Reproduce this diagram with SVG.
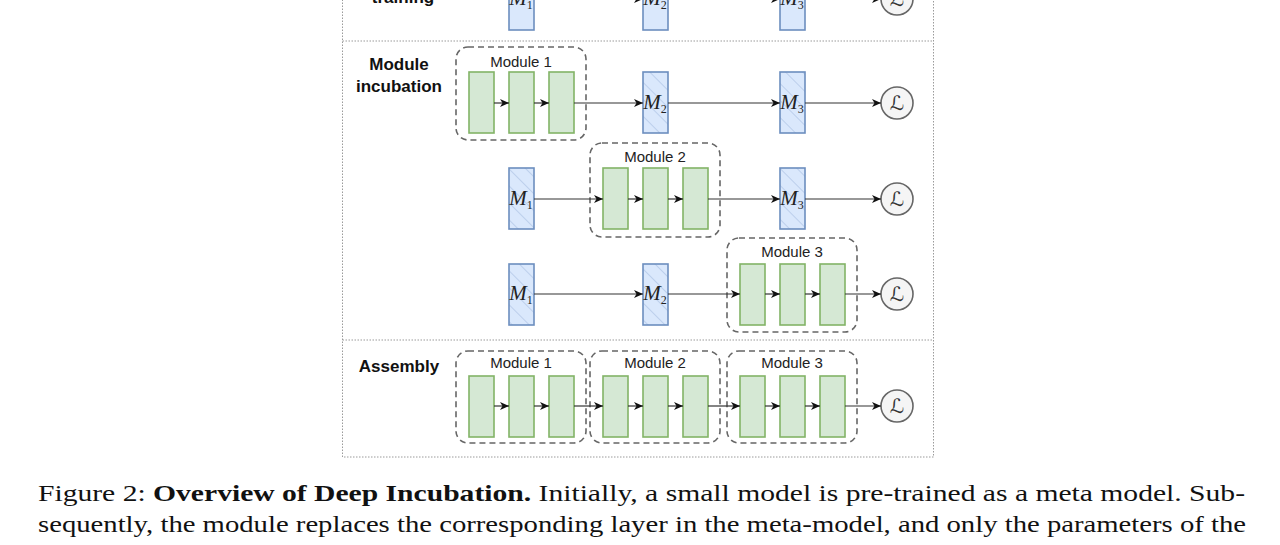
<svg xmlns="http://www.w3.org/2000/svg" width="1280" height="545" viewBox="0 0 1280 545">
<style>
.frame{fill:none;stroke:#9a9a9a;stroke-width:1;stroke-dasharray:1.5 1.5}
.sep{stroke:#9a9a9a;stroke-width:1;stroke-dasharray:1.5 1.5}
.mod{fill:none;stroke:#666;stroke-width:1.6;stroke-dasharray:6 4}
.g{fill:#d5e8d4;stroke:#82b366;stroke-width:1.6}
.b{fill:#dae8fc;stroke:#6c8ebf;stroke-width:1.6}
.bh{fill:url(#hatch);stroke:#6c8ebf;stroke-width:1.6}
.loss{fill:#f5f5f5;stroke:#666;stroke-width:1.6}
.row{font-family:'Liberation Sans',Arial,sans-serif;font-weight:bold;font-size:17px;fill:#111;text-anchor:middle}
.ml{font-family:'Liberation Sans',Arial,sans-serif;font-size:15px;fill:#222;text-anchor:middle}
.m{font-family:'Times New Roman','Liberation Serif',Tinos,'Nimbus Roman','FreeSerif',serif;font-style:italic;font-size:21px;fill:#222;text-anchor:middle}
.sub{font-style:normal;font-size:12px}
.L{font-family:'DejaVu Serif','DejaVu Sans',serif;font-size:20px;fill:#333;text-anchor:middle}
.c{stroke:#333;stroke-width:1.2;fill:none;marker-end:url(#ah)}
.cap{font-family:'Times New Roman','Liberation Serif',Tinos,'Nimbus Roman','FreeSerif',serif;font-size:24px;fill:#111}
</style>
<defs>
<pattern id="hatch" width="12" height="12" patternUnits="userSpaceOnUse" patternTransform="rotate(-45)">
<rect width="12" height="12" fill="#dae8fc"/>
<line x1="0" y1="0" x2="0" y2="12" stroke="#6c8ebf" stroke-width="1" stroke-opacity="0.55"/>
</pattern>
<marker id="ah" markerWidth="10" markerHeight="9" refX="9" refY="4.5" orient="auto" markerUnits="userSpaceOnUse">
<path d="M0,0.5 L9,4.5 L0,8.5 L2.5,4.5 z" fill="#111"/>
</marker>
</defs>
<rect width="1280" height="545" fill="#fff"/>

<g id="frame">
<rect class="frame" x="342.5" y="-20" width="591" height="477"/>
<line class="sep" x1="342.5" y1="41" x2="933.5" y2="41"/>
<line class="sep" x1="342.5" y1="340" x2="933.5" y2="340"/>
</g>

<g id="labels">
<text class="row" x="403" y="3">training</text>
<text class="row" x="399" y="70">Module</text>
<text class="row" x="399" y="92">incubation</text>
<text class="row" x="399" y="372">Assembly</text>
</g>

<g id="row0">
<g id="r0-m1"><rect class="b" x="509" y="-32" width="25" height="62"/><text class="m" x="521" y="5">M<tspan class="sub" dy="4">1</tspan></text></g>
<g id="r0-m2"><rect class="b" x="643" y="-32" width="25" height="62"/><text class="m" x="655" y="5">M<tspan class="sub" dy="4">2</tspan></text></g>
<g id="r0-m3"><rect class="b" x="780" y="-32" width="25" height="62"/><text class="m" x="792" y="5">M<tspan class="sub" dy="4">3</tspan></text></g>
<g id="r0-loss"><circle class="loss" cx="897" cy="-1" r="16"/><text class="L" x="897" y="6">ℒ</text></g>
</g>

<g id="row1">
<g id="r1-module1">
<rect class="mod" x="456" y="47" width="130" height="93" rx="12"/>
<text class="ml" x="521" y="67">Module 1</text>
<rect class="g" x="469" y="72" width="25" height="61"/>
<rect class="g" x="509" y="72" width="25" height="61"/>
<rect class="g" x="549" y="72" width="25" height="61"/>
</g>
<g id="r1-m2"><rect class="bh" x="643" y="72" width="25" height="61"/><text class="m" x="655" y="109">M<tspan class="sub" dy="4">2</tspan></text></g>
<g id="r1-m3"><rect class="bh" x="780" y="72" width="25" height="61"/><text class="m" x="792" y="109">M<tspan class="sub" dy="4">3</tspan></text></g>
<g id="r1-loss"><circle class="loss" cx="897" cy="103" r="16"/><text class="L" x="897" y="110">ℒ</text></g>
</g>

<g id="row2">
<g id="r2-m1"><rect class="bh" x="509" y="168" width="25" height="61"/><text class="m" x="521" y="205">M<tspan class="sub" dy="4">1</tspan></text></g>
<g id="r2-module2">
<rect class="mod" x="590" y="143" width="130" height="94" rx="12"/>
<text class="ml" x="655" y="162">Module 2</text>
<rect class="g" x="603" y="168" width="25" height="61"/>
<rect class="g" x="643" y="168" width="25" height="61"/>
<rect class="g" x="683" y="168" width="25" height="61"/>
</g>
<g id="r2-m3"><rect class="bh" x="780" y="168" width="25" height="61"/><text class="m" x="792" y="205">M<tspan class="sub" dy="4">3</tspan></text></g>
<g id="r2-loss"><circle class="loss" cx="897" cy="199" r="16"/><text class="L" x="897" y="206">ℒ</text></g>
</g>

<g id="row3">
<g id="r3-m1"><rect class="bh" x="509" y="264" width="25" height="61"/><text class="m" x="521" y="300">M<tspan class="sub" dy="4">1</tspan></text></g>
<g id="r3-m2"><rect class="bh" x="643" y="264" width="25" height="61"/><text class="m" x="655" y="300">M<tspan class="sub" dy="4">2</tspan></text></g>
<g id="r3-module3">
<rect class="mod" x="727" y="238" width="130" height="94" rx="12"/>
<text class="ml" x="792" y="257">Module 3</text>
<rect class="g" x="740" y="264" width="25" height="61"/>
<rect class="g" x="780" y="264" width="25" height="61"/>
<rect class="g" x="820" y="264" width="25" height="61"/>
</g>
<g id="r3-loss"><circle class="loss" cx="897" cy="294" r="16"/><text class="L" x="897" y="301">ℒ</text></g>
</g>

<g id="assembly">
<g id="a-module1">
<rect class="mod" x="456" y="351" width="130" height="92" rx="12"/>
<text class="ml" x="521" y="368">Module 1</text>
<rect class="g" x="469" y="376" width="25" height="61"/>
<rect class="g" x="509" y="376" width="25" height="61"/>
<rect class="g" x="549" y="376" width="25" height="61"/>
</g>
<g id="a-module2">
<rect class="mod" x="590" y="351" width="130" height="92" rx="12"/>
<text class="ml" x="655" y="368">Module 2</text>
<rect class="g" x="603" y="376" width="25" height="61"/>
<rect class="g" x="643" y="376" width="25" height="61"/>
<rect class="g" x="683" y="376" width="25" height="61"/>
</g>
<g id="a-module3">
<rect class="mod" x="727" y="351" width="130" height="92" rx="12"/>
<text class="ml" x="792" y="368">Module 3</text>
<rect class="g" x="740" y="376" width="25" height="61"/>
<rect class="g" x="780" y="376" width="25" height="61"/>
<rect class="g" x="820" y="376" width="25" height="61"/>
</g>
<g id="a-loss"><circle class="loss" cx="897" cy="406" r="16"/><text class="L" x="897" y="413">ℒ</text></g>
</g>

<g id="connectors">
<path class="c" d="M534,-1 H643"/>
<path class="c" d="M668,-1 H780"/>
<path class="c" d="M805,-1 H881"/>
<path class="c" d="M494,103 H509"/>
<path class="c" d="M534,103 H549"/>
<path class="c" d="M574,103 H643"/>
<path class="c" d="M668,103 H780"/>
<path class="c" d="M805,103 H881"/>
<path class="c" d="M534,199 H603"/>
<path class="c" d="M628,199 H643"/>
<path class="c" d="M668,199 H683"/>
<path class="c" d="M708,199 H780"/>
<path class="c" d="M805,199 H881"/>
<path class="c" d="M534,294 H643"/>
<path class="c" d="M668,294 H740"/>
<path class="c" d="M765,294 H780"/>
<path class="c" d="M805,294 H820"/>
<path class="c" d="M845,294 H881"/>
<path class="c" d="M494,406 H509"/>
<path class="c" d="M534,406 H549"/>
<path class="c" d="M574,406 H603"/>
<path class="c" d="M628,406 H643"/>
<path class="c" d="M668,406 H683"/>
<path class="c" d="M708,406 H740"/>
<path class="c" d="M765,406 H780"/>
<path class="c" d="M805,406 H820"/>
<path class="c" d="M845,406 H881"/>
</g>

<g id="caption">
<text class="cap" x="38" y="501" textLength="1207" lengthAdjust="spacingAndGlyphs">Figure 2:  <tspan font-weight="bold">Overview of Deep Incubation.</tspan>  Initially, a small model is pre-trained as a meta model.  Sub-</text>
<text class="cap" x="38" y="532" textLength="1208" lengthAdjust="spacingAndGlyphs">sequently, the module replaces the corresponding layer in the meta-model, and only the parameters of the</text>
</g>
</svg>
